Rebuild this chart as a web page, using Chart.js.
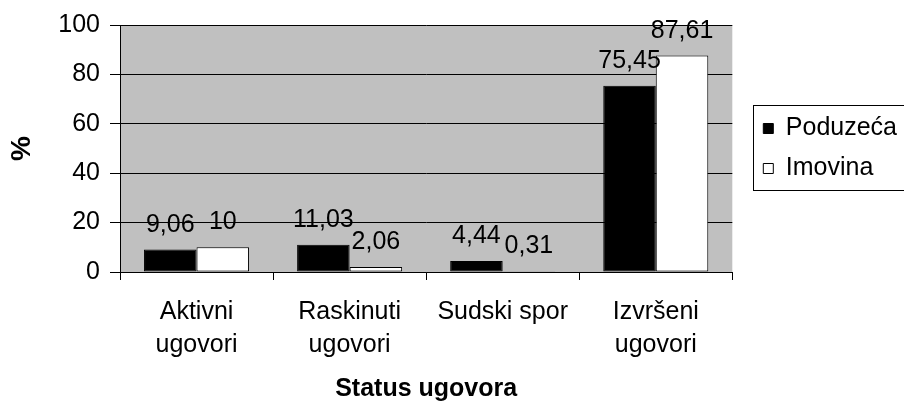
<!DOCTYPE html>
<html>
<head>
<meta charset="utf-8">
<script src="https://cdn.jsdelivr.net/npm/chart.js@4/dist/chart.umd.min.js"></script>
<style>
  html, body { margin: 0; padding: 0; background: #fff; }
  #wrap { width: 904px; height: 404px; }
</style>
</head>
<body>
<div id="wrap"><canvas id="chart" width="904" height="404"></canvas></div>
<script>
// Data
const categories = [['Aktivni', 'ugovori'], ['Raskinuti', 'ugovori'], 'Sudski spor', ['Izvršeni', 'ugovori']];
const poduzeca = [9.06, 11.03, 4.44, 75.45];
const imovina = [10, 2.06, 0.31, 87.61];
const yTicks = [0, 20, 40, 60, 80, 100];

Chart.defaults.font.family = "'Liberation Sans', Arial, sans-serif";
Chart.defaults.font.size = 25;
Chart.defaults.color = '#000';

// grey plot background
const plotBg = {
    id: 'plotBg',
    beforeDraw(chart) {
        const a = chart.chartArea;
        const ctx = chart.ctx;
        ctx.save();
        ctx.fillStyle = '#c0c0c0';
        ctx.fillRect(a.left, a.top, a.right - a.left, a.bottom - a.top);
        ctx.restore();
    }
};

// value labels above the bars, with comma decimals
const valueLabels = {
    id: 'valueLabels',
    afterDatasetsDraw(chart) {
        const ctx = chart.ctx;
        ctx.save();
        ctx.font = "25px 'Liberation Sans', Arial, sans-serif";
        ctx.fillStyle = '#000';
        ctx.textAlign = 'center';
        ctx.textBaseline = 'alphabetic';
        chart.data.datasets.forEach((ds, i) => {
            chart.getDatasetMeta(i).data.forEach((bar, j) => {
                const txt = String(ds.data[j]).replace('.', ',');
                ctx.fillText(txt, bar.x, bar.y - 18);
            });
        });
        ctx.restore();
    }
};

// move legend off the plot a bit and draw its frame
const legendBox = {
    id: 'legendBox',
    afterLayout(chart) {
        const lg = chart.legend;
        const w = lg.right - lg.left;
        lg.left = chart.chartArea.right + 16;
        lg.right = lg.left + w;
    },
    afterDraw(chart) {
        const lg = chart.legend;
        const hb = lg.legendHitBoxes;
        if (!hb || !hb.length) return;
        const ctx = chart.ctx;
        const top = Math.round(hb[0].top) - 11;
        const bottom = Math.round(hb[hb.length - 1].top + hb[hb.length - 1].height) + 9;
        ctx.save();
        ctx.strokeStyle = '#000';
        ctx.lineWidth = 1;
        ctx.strokeRect(Math.round(lg.left) + 5.5, top + 0.5, 300, bottom - top);
        ctx.restore();
    }
};

new Chart(document.getElementById('chart'), {
    type: 'bar',
    data: {
        labels: categories,
        datasets: [{
            label: 'Poduzeća',
            data: poduzeca,
            backgroundColor: '#000',
            borderColor: '#000',
            borderWidth: 1,
            borderSkipped: false
        }, {
            label: 'Imovina',
            data: imovina,
            backgroundColor: '#fff',
            borderColor: '#000',
            borderWidth: 1,
            borderSkipped: false
        }]
    },
    options: {
        responsive: false,
        devicePixelRatio: 1,
        animation: false,
        datasets: {
            bar: { categoryPercentage: 0.686, barPercentage: 1 }
        },
        layout: { padding: { top: 20, right: 13, bottom: 0, left: 0 } },
        plugins: {
            tooltip: { enabled: false },
            legend: {
                position: 'right',
                fullSize: false,
                labels: {
                    boxWidth: 10,
                    boxHeight: 10,
                    padding: 15,
                    color: '#000',
                    font: { size: 25 }
                }
            }
        },
        scales: {
            x: {
                offset: true,
                grid: {
                    offset: true,
                    drawOnChartArea: false,
                    drawTicks: true,
                    tickLength: 8,
                    color: '#000'
                },
                border: { display: true, color: '#000', width: 1 },
                ticks: {
                    padding: 16,
                    color: '#000',
                    maxRotation: 0,
                    autoSkip: false,
                    font: { size: 25, lineHeight: 1.3 }
                },
                title: {
                    display: true,
                    text: 'Status ugovora',
                    color: '#000',
                    font: { size: 25, weight: 'bold' },
                    padding: { top: 0, bottom: 0 }
                },
                afterFit(scale) { scale.height = 132; }
            },
            y: {
                min: 0,
                max: 100,
                afterBuildTicks(scale) { scale.ticks = yTicks.map(v => ({ value: v })); },
                grid: {
                    color: '#000',
                    lineWidth: 1,
                    drawTicks: true,
                    tickLength: 10
                },
                border: { display: true, color: '#000', width: 1 },
                ticks: {
                    padding: 10,
                    color: '#000',
                    font: { size: 25 }
                },
                title: {
                    display: true,
                    text: '%',
                    color: '#000',
                    font: { size: 28, weight: 'bold' },
                    padding: { top: 5, bottom: 0 }
                },
                afterFit(scale) { scale.width = 120; }
            }
        }
    },
    plugins: [plotBg, valueLabels, legendBox]
});
</script>
</body>
</html>
